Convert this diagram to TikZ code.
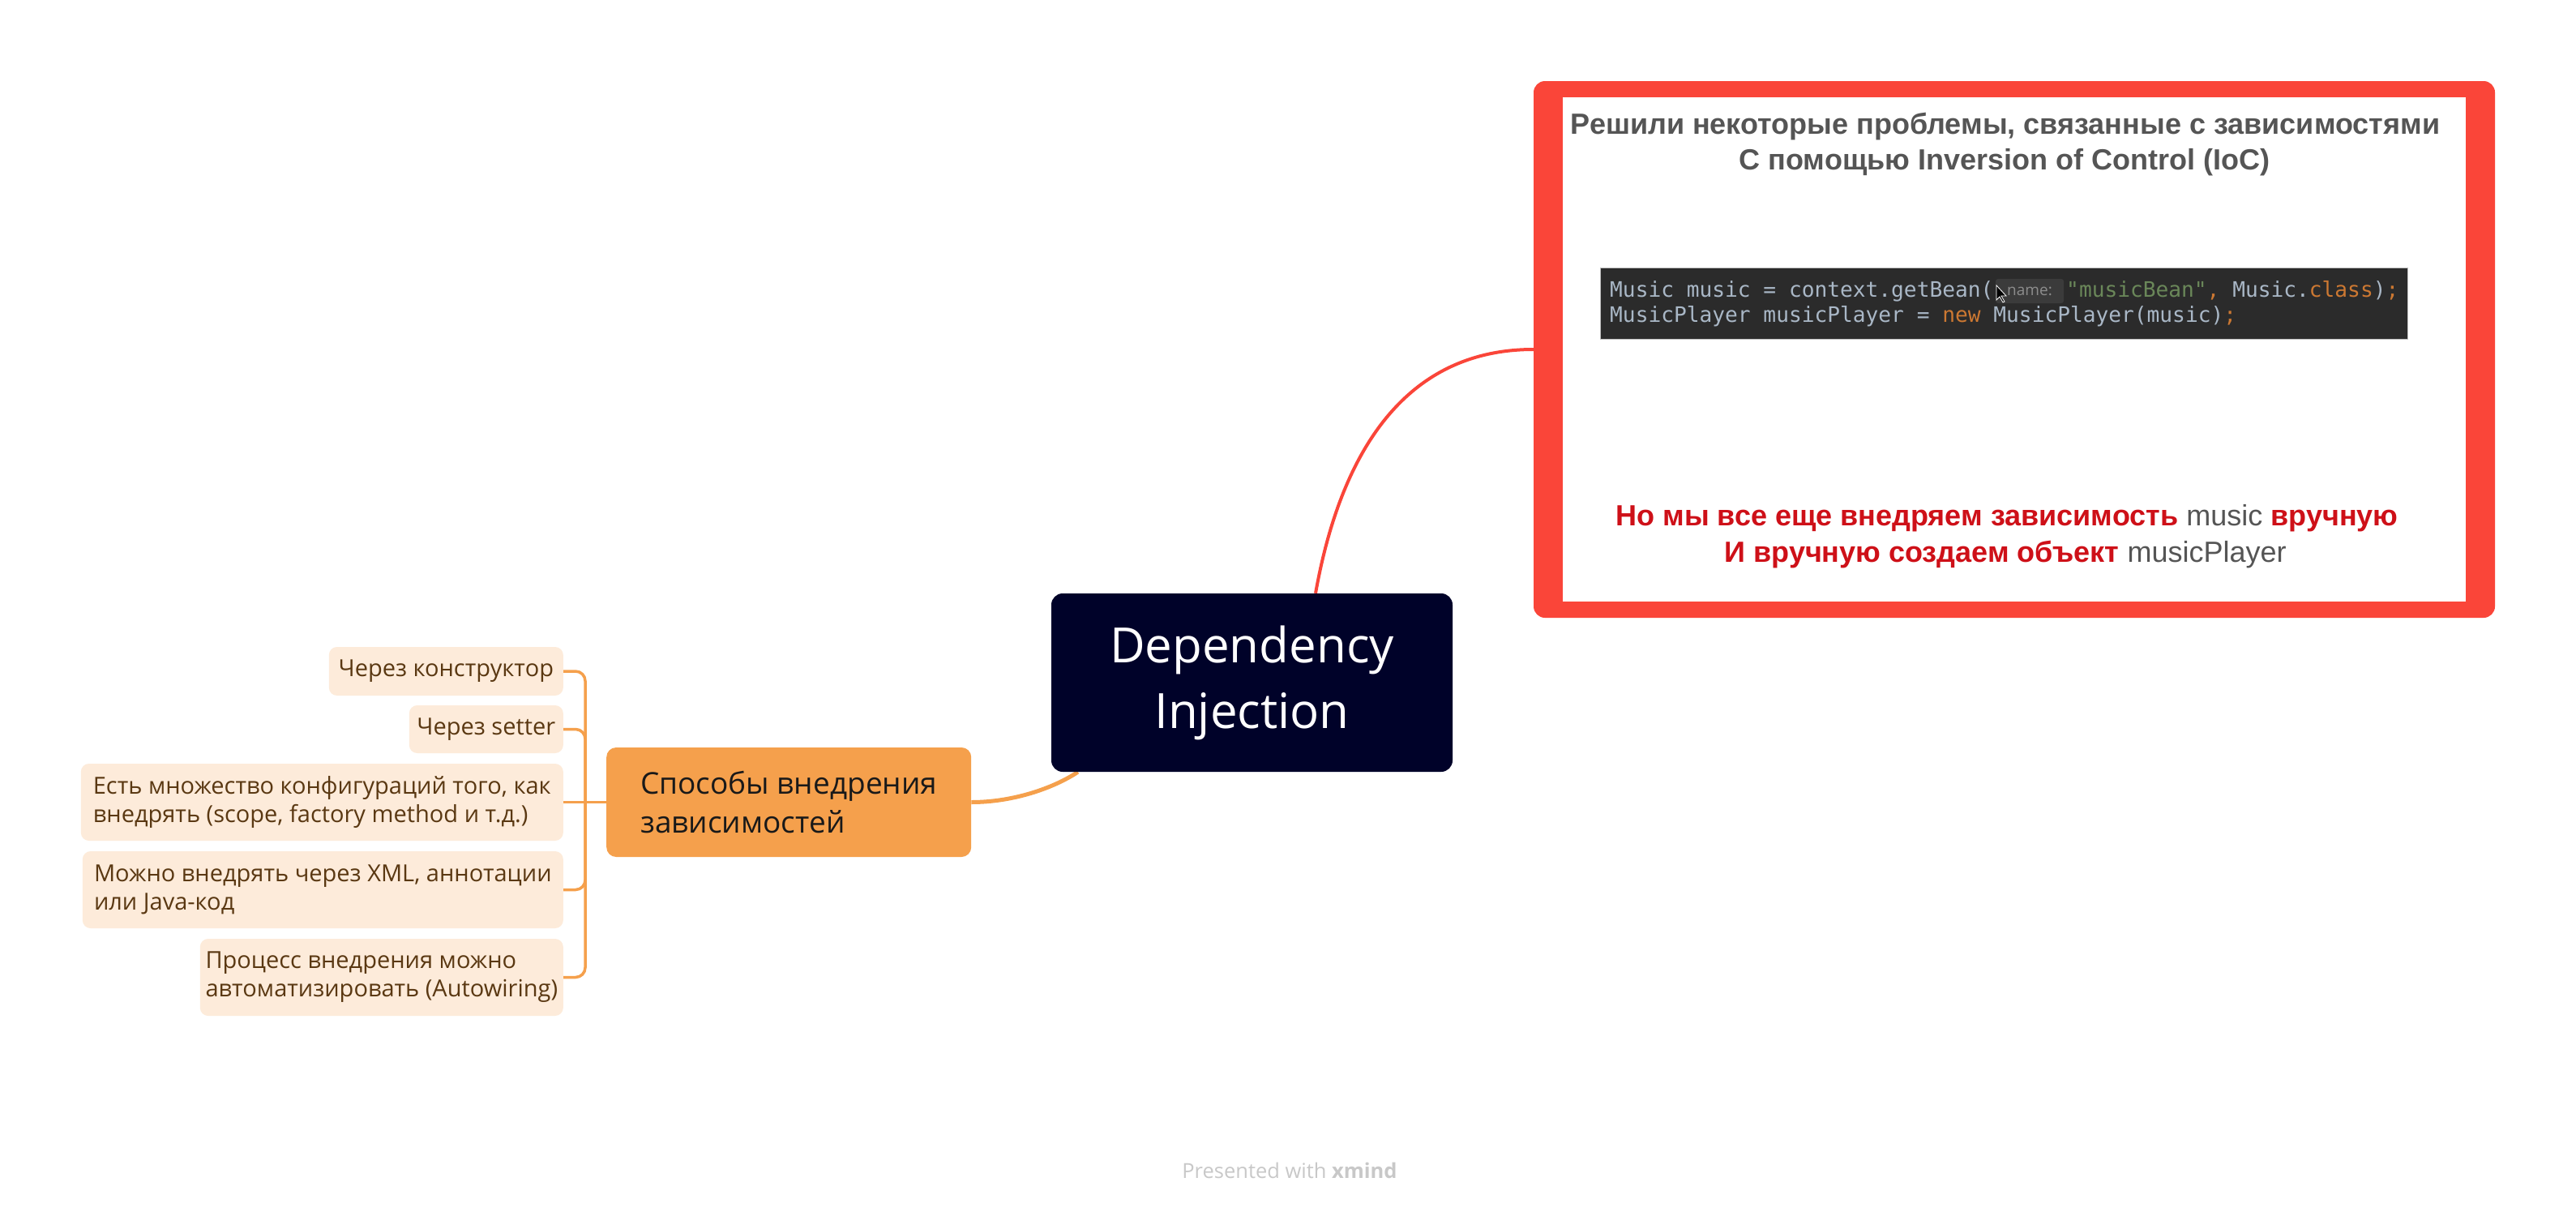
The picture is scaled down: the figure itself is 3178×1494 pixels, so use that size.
\documentclass[tikz,border=0pt]{standalone}
\usepackage{fontspec}
\setmainfont{Open Sans}
\setmonofont{DejaVu Sans Mono}
\newfontfamily\slidefont{Liberation Sans}
\usetikzlibrary{backgrounds}
\definecolor{redc}{HTML}{FA4539}
\definecolor{navy}{HTML}{000229}
\definecolor{orangec}{HTML}{F5A04C}
\definecolor{peach}{HTML}{FDEBDA}
\definecolor{brownt}{HTML}{5A3812}
\definecolor{slidegray}{HTML}{555555}
\definecolor{slidered}{HTML}{CE1018}
\definecolor{codebg}{HTML}{2B2B2B}
\definecolor{codefg}{HTML}{A9B7C6}
\definecolor{codeor}{HTML}{CC7832}
\definecolor{codegr}{HTML}{6A8759}
\definecolor{hintbg}{HTML}{3B3B3B}
\definecolor{hintfg}{HTML}{8C8C8C}
\definecolor{footc}{HTML}{C8C8C8}
\begin{document}
\begin{tikzpicture}[x=1pt,y=-1pt,
  central/.style={fill=navy, rounded corners=14pt, text=white, align=center,
    minimum width=495pt, minimum height=220pt, inner sep=0pt,
    font=\fontsize{60}{81}\selectfont},
  waysbox/.style={fill=orangec, rounded corners=12pt, text=black!90, align=left,
    minimum width=450pt, minimum height=135pt, inner sep=0pt,
    font=\fontsize{37}{48}\selectfont},
  leaf/.style={fill=peach, rounded corners=10pt, text=brownt, align=left,
    inner sep=0pt, anchor=east, font=\fontsize{29}{35}\selectfont},
  brk/.style={draw=orangec, line width=3.5pt},
  slidetop/.style={text=slidegray, anchor=base, inner sep=0pt,
    font=\slidefont\bfseries\fontsize{36}{44}\selectfont},
  slidebot/.style={anchor=base, inner sep=0pt,
    font=\slidefont\fontsize{36}{44}\selectfont},
  codetext/.style={text=codefg, anchor=base west, inner sep=0pt,
    font=\ttfamily\fontsize{26.2}{30}\selectfont}
]
\useasboundingbox (0,0) rectangle (3178,1494);

% central topic
\node[central] (di) at (1544.5,842) {Dependency\\Injection};

% orange branch
\node[waysbox, anchor=west] (ways) at (748,989.5) {Способы внедрения\\зависимостей};

% leaves
\node[leaf, minimum width=289pt, minimum height=60pt] (c1) at (695,828) {Через конструктор};
\node[leaf, minimum width=190pt, minimum height=59pt] (c2) at (695,899.5) {Через setter};
\node[leaf, minimum width=595pt, minimum height=95pt] (c3) at (695,989.5) {Есть множество конфигураций того, как\\внедрять (scope, factory method и т.д.)};
\node[leaf, minimum width=593pt, minimum height=95pt] (c4) at (695,1097.5) {Можно внедрять через XML, аннотации\\или Java-код};
\node[leaf, minimum width=448pt, minimum height=95pt] (c5) at (695,1205.5) {Процесс внедрения можно\\автоматизировать (Autowiring)};

% red image topic
\node[fill=redc, rounded corners=14pt, minimum width=1186pt, minimum height=662pt, inner sep=0pt] (shot) at (2485,431) {};
\node[fill=white, minimum width=1114pt, minimum height=622pt, inner sep=0pt] (shotin) at (2485,431) {};

\node[slidetop] (t1) at (2474,165) {Решили некоторые проблемы, связанные с зависимостями};
\node[slidetop] (t2) at (2473,209) {С помощью Inversion of Control (IoC)};

\node[fill=codebg, draw=black!25, line width=1pt, minimum width=996pt, minimum height=88pt, inner sep=0pt] (code) at (2472,374) {};
\node[codetext] (cA) at (1986,366) {Music music = context.getBean(};
\node[fill=hintbg, rounded corners=3pt, text=hintfg, minimum width=84pt, minimum height=30pt, inner sep=0pt,
  font=\fontsize{19}{22}\selectfont] (hint) at (2504,359) {name:};
\node[codetext] (cB) at (2549,366) {{\color{codegr}"musicBean"}{\color{codeor},} Music.{\color{codeor}class}){\color{codeor};}};
\node[codetext] (cC) at (1986,397) {MusicPlayer musicPlayer = {\color{codeor}new} MusicPlayer(music){\color{codeor};}};
\filldraw[fill=black, draw=white, line width=0.8pt] (2463,352) -- (2463,370) -- (2467,366) -- (2471,373) -- (2473,372) -- (2469,365) -- (2475,365) -- cycle;

\node[slidebot] (b1) at (2476,648) {{\color{slidered}\bfseries Но мы все еще внедряем зависимость} {\color{slidegray}music} {\color{slidered}\bfseries вручную}};
\node[slidebot] (b2) at (2474,693) {{\color{slidered}\bfseries И вручную создаем объект} {\color{slidegray}musicPlayer}};

% footer
\node[text=footc, anchor=base, inner sep=0pt, font=\fontsize{25.5}{28}\selectfont] (foot) at (1591,1453) {Presented with \textbf{xmind}};

% connectors
\coordinate (jct) at (722,989.5);
\begin{scope}[on background layer]
\fill[white] (0,0) rectangle (3178,1494);
\draw[redc, line width=4pt] ([xshift=78.5pt]di.north) .. controls (1650,580) and (1720,431) .. (shot.west);
\draw[orangec, line width=5pt] (ways.east) .. controls (1250,989.5) and (1300,972) .. ([xshift=33pt]di.south west);
\draw[brk] (ways.west) -- (jct);
\draw[brk] (jct) -- (c3.east);
\foreach \c in {c1,c2,c4,c5} \draw[brk, rounded corners=12pt] (jct) |- (\c.east);
\end{scope}
\end{tikzpicture}
\end{document}
